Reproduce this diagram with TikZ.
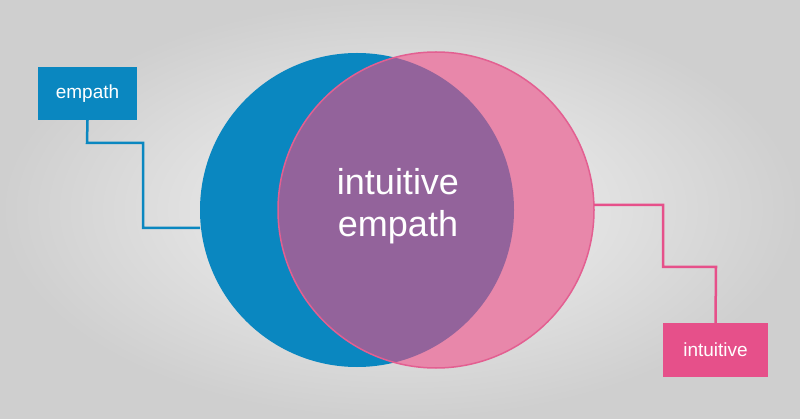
\documentclass[tikz,border=0pt]{standalone}
\usepackage{fontspec}
\setmainfont{Liberation Sans}
\definecolor{eblue}{HTML}{0A87C0}
\definecolor{ipink}{HTML}{E887AA}
\definecolor{ipinkbox}{HTML}{E6508A}
\definecolor{ipinkline}{HTML}{E35F91}
\definecolor{both}{HTML}{93639B}
\definecolor{bgin}{HTML}{F4F4F4}
\definecolor{bgout}{HTML}{CFCFCF}
\begin{document}
\begin{tikzpicture}[x=1pt,y=-1pt,
  lbl/.style={font=\fontsize{19}{22}\selectfont, text=white, inner sep=0pt},
  conn/.style={line width=2.5pt}]
\shade[inner color=bgin, outer color=bgout] (0,0) rectangle (800,419);
\useasboundingbox (0,0) rectangle (800,419);
\coordinate (bc) at (357,210);
\coordinate (pc) at (436,210);
\fill[eblue] (bc) circle (157);
\fill[ipink] (pc) circle (158);
\begin{scope}
  \clip (bc) circle (157);
  \fill[both] (pc) circle (158);
\end{scope}
\draw[ipinkline, line width=1.5pt] (pc) circle (158);
\node[font=\fontsize{36}{42}\selectfont, text=white, align=center] (mid) at (398,206) {intuitive\\empath};
\node[fill=eblue, minimum width=99pt, minimum height=53pt, lbl] (emp) at (87.5,93.5) {empath};
\node[fill=ipinkbox, minimum width=105pt, minimum height=54pt, lbl] (int) at (715.5,350) {intuitive};
\coordinate (bl) at (200,228);
\coordinate (pr) at (594,205);
\draw[conn, eblue] (emp.south) -- (87,143) -- (143,143) -- (143,228) -- (bl);
\draw[conn, ipinkbox] (pr) -- (663,205) -- (663,267) -- (716,267) -- (int.north);
\end{tikzpicture}
\end{document}
